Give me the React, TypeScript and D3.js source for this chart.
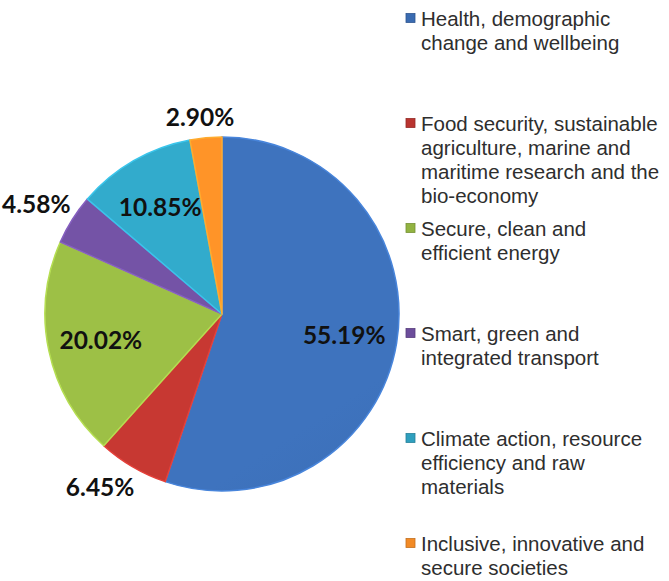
import React from "react";
import * as d3 from "d3";

const categories = [
  "Health, demographic change and wellbeing",
  "Food security, sustainable agriculture, marine and maritime research and the bio-economy",
  "Secure, clean and efficient energy",
  "Smart, green and integrated transport",
  "Climate action, resource efficiency and raw materials",
  "Inclusive, innovative and secure societies",
];
const legendLines = [
  ["Health, demographic", "change and wellbeing"],
  ["Food security, sustainable", "agriculture, marine and", "maritime research and the", "bio-economy"],
  ["Secure, clean and", "efficient energy"],
  ["Smart, green and", "integrated transport"],
  ["Climate action, resource", "efficiency and raw", "materials"],
  ["Inclusive, innovative and", "secure societies"],
];
const values = [55.19, 6.45, 20.02, 4.58, 10.85, 2.9];
const labels = ["55.19%", "6.45%", "20.02%", "4.58%", "10.85%", "2.90%"];
const colors = ["#3a6bb1", "#b9342f", "#92b341", "#6c4d9b", "#2f9fbe", "#f28a25"];
const insideLabel = [true, false, true, false, true, false];

export default function App() {
  const W = 669, H = 581;
  const cx = 222, cy = 314, r = 177;
  const pie = d3.pie<number>().sort(null).value((d) => d)(values);
  const arc = d3.arc<d3.PieArcDatum<number>>().innerRadius(0).outerRadius(r);
  const fontSize = 24.5;
  const legendX = 406;
  const legendTop = 18;
  const itemStep = 105;
  const lineH = 24;

  return (
    <svg width={W} height={H} style={{ position: "absolute", left: 0, top: 0, background: "#fff" }}>
      <defs>
        {colors.map((c, i) => (
          <linearGradient key={i} id={`g${i}`} gradientUnits="userSpaceOnUse" x1={cx - r} y1={cy - r} x2={cx + r * 0.3} y2={cy + r}>
            <stop offset="0%" stopColor={d3.color(c)!.brighter(0.2).toString()} />
            <stop offset="100%" stopColor={d3.color(c)!.darker(0.25).toString()} />
          </linearGradient>
        ))}
      </defs>
      <g transform={`translate(${cx},${cy})`}>
        {pie.map((p, i) => (
          <path
            key={i}
            d={arc(p) || ""}
            fill={`url(#g${i})`}
            stroke={d3.color(colors[i])!.brighter(0.6).toString()}
            strokeWidth={1.5}
            strokeLinejoin="round"
          />
        ))}
        {pie.map((p, i) => {
          const mid = (p.startAngle + p.endAngle) / 2;
          const ux = Math.sin(mid), uy = -Math.cos(mid);
          let x: number, y: number;
          if (insideLabel[i]) {
            x = ux * r * 0.7;
            y = uy * r * 0.7;
          } else {
            const hw = labels[i].length * 5.5, hh = 11;
            const d = r + 10;
            x = ux * d + Math.sign(ux) * hw * Math.min(1, 2 * Math.abs(ux));
            y = uy * d + Math.sign(uy) * hh * Math.min(1, 2 * Math.abs(uy));
          }
          return (
            <text
              key={i}
              x={x}
              y={y}
              textAnchor="middle"
              dominantBaseline="central"
              fontFamily="Lato, 'Open Sans', sans-serif"
              fontWeight={700}
              fontSize={fontSize}
              fill="#111"
            >
              {labels[i]}
            </text>
          );
        })}
      </g>
      <g>
        {categories.map((c, i) => {
          const y0 = legendTop + i * itemStep;
          return (
            <g key={c}>
              <rect
                x={legendX}
                y={y0 - 4.5}
                width={9}
                height={9}
                fill={colors[i]}
                stroke={d3.color(colors[i])!.darker(0.6).toString()}
                strokeWidth={0.8}
              />
              {legendLines[i].map((ln, j) => (
                <text
                  key={j}
                  x={legendX + 15}
                  y={y0 + j * lineH}
                  dominantBaseline="central"
                  fontFamily="'Liberation Sans', Arial, sans-serif"
                  fontSize={20.5}
                  fill="#2e2e2e"
                >
                  {ln}
                </text>
              ))}
            </g>
          );
        })}
      </g>
    </svg>
  );
}
